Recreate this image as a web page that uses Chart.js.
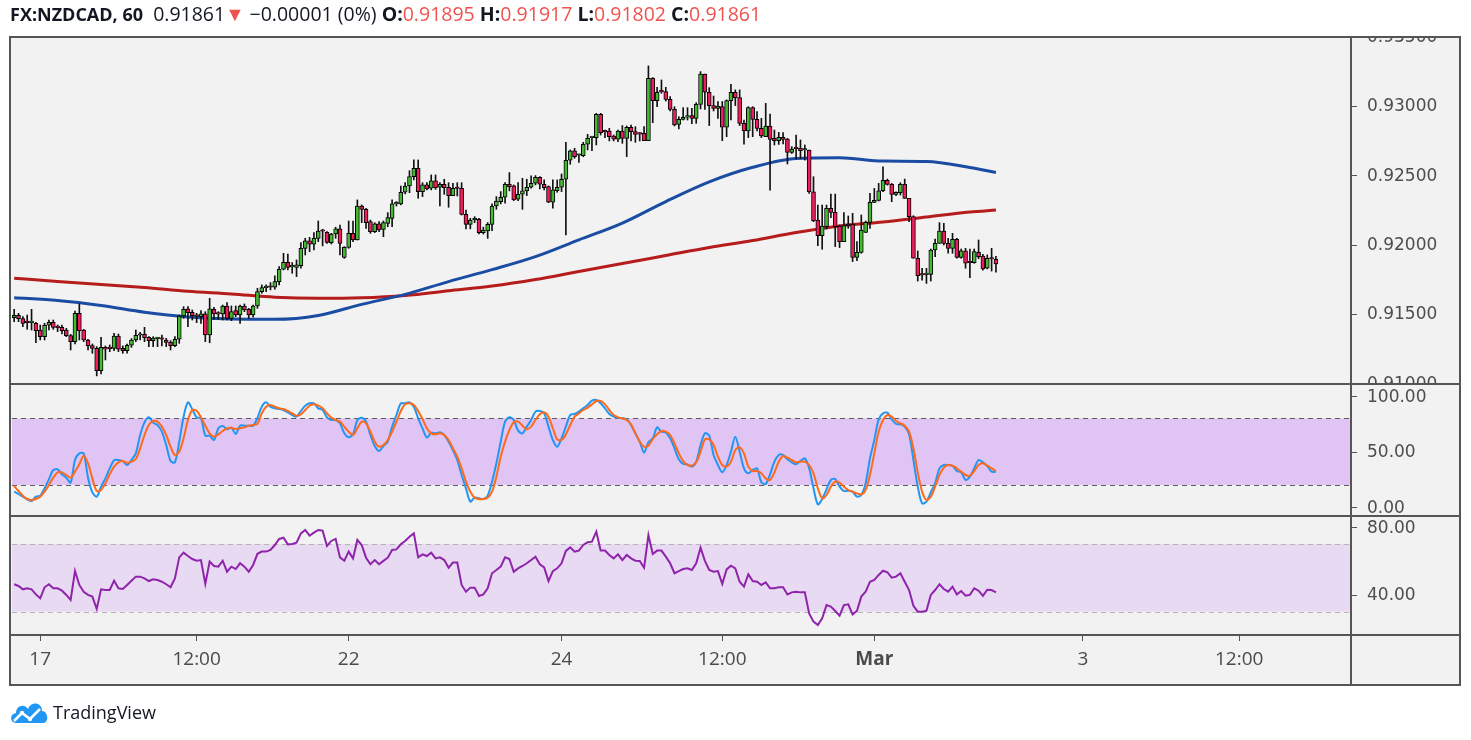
<!DOCTYPE html>
<html>
<head>
<meta charset="utf-8">
<title>FX:NZDCAD, 60</title>
<script src="https://cdn.jsdelivr.net/npm/chart.js@4.4.1/dist/chart.umd.min.js"></script>
<style>
  html, body { margin: 0; padding: 0; background: #fff; }
  body { width: 1471px; height: 740px; position: relative; overflow: hidden; font-family: "Open Sans", sans-serif; }
  #chart { position: absolute; left: 0; top: 0; }
  #legend { position: absolute; left: 10px; top: 1px; font-size: 19.5px; color: #131722; white-space: nowrap; line-height: 26px; }
  #legend b { font-weight: 700; }
  #legend b.sym { font-size: 18px; }
  #legend .r { color: #ef5350; }
  #logo { position: absolute; left: 9px; top: 699px; height: 26px; display: flex; align-items: center; }
  #logo span { font-size: 18px; color: #131722; margin-left: 4px; }
</style>
</head>
<body>
<canvas id="chart" width="1471" height="740"></canvas>
<div id="legend"><b class="sym">FX:NZDCAD, 60</b>&nbsp; 0.91861<span class="r">▼</span> −0.00001 (0%) <b>O:</b><span class="r">0.91895</span> <b>H:</b><span class="r">0.91917</span> <b>L:</b><span class="r">0.91802</span> <b>C:</b><span class="r">0.91861</span></div>
<div id="logo">
  <svg width="40" height="24" viewBox="0 0 40 24">
    <path d="M7 23 C1 23 0 14 7 13 C7 6 15 3 19 9 C22 1 33 2 33 11 C39 11 41 23 33 23 Z" fill="#2196f3"/>
    <polyline points="5,21 13,13 21,19 31,9" fill="none" stroke="#fff" stroke-width="2.5"/>
    <circle cx="13" cy="13" r="2.2" fill="#fff"/><circle cx="21" cy="19" r="2.2" fill="#fff"/>
  </svg>
  <span>TradingView</span>
</div>
<script>
// ---- data (hourly candles) ----
const opens = [0.91474,0.91491,0.91467,0.91440,0.91438,0.91433,0.91385,0.91337,0.91419,0.91440,0.91404,0.91404,0.91385,0.91344,0.91301,0.91505,0.91385,0.91313,0.91272,0.91253,
0.91092,0.91260,0.91253,0.91253,0.91342,0.91253,0.91236,0.91275,0.91313,0.91347,0.91354,0.91332,0.91308,0.91323,0.91320,0.91313,0.91296,0.91272,0.91318,0.91486,
0.91537,0.91513,0.91486,0.91481,0.91501,0.91349,0.91534,0.91501,0.91501,0.91558,0.91469,0.91525,0.91493,0.91558,0.91534,0.91493,0.91558,0.91662,0.91690,0.91695,
0.91693,0.91734,0.91823,0.91873,0.91840,0.91837,0.91849,0.91974,0.92027,0.92003,0.92046,0.92099,0.92089,0.92015,0.92077,0.92114,0.91909,0.91981,0.92082,0.92034,
0.92279,0.92255,0.92166,0.92094,0.92150,0.92111,0.92154,0.92190,0.92294,0.92294,0.92378,0.92423,0.92491,0.92551,0.92383,0.92431,0.92407,0.92460,0.92414,0.92435,
0.92414,0.92354,0.92407,0.92407,0.92219,0.92147,0.92180,0.92183,0.92087,0.92099,0.92147,0.92279,0.92311,0.92342,0.92436,0.92424,0.92328,0.92364,0.92388,0.92414,
0.92443,0.92486,0.92436,0.92419,0.92306,0.92390,0.92414,0.92472,0.92609,0.92676,0.92645,0.92642,0.92724,0.92772,0.92772,0.92940,0.92815,0.92820,0.92784,0.92760,
0.92820,0.92767,0.92847,0.92815,0.92799,0.92803,0.92750,0.93200,0.93039,0.93104,0.93104,0.93048,0.92976,0.92868,0.92904,0.92919,0.92931,0.92911,0.93012,0.93231,
0.93099,0.93003,0.92983,0.92995,0.92847,0.93039,0.93099,0.93060,0.92875,0.92820,0.92988,0.92904,0.92839,0.92779,0.92856,0.92767,0.92750,0.92774,0.92762,0.92666,
0.92695,0.92695,0.92683,0.92683,0.92382,0.92178,0.92065,0.92130,0.92262,0.92233,0.92135,0.92022,0.92149,0.92147,0.91909,0.91945,0.92089,0.92161,0.92305,0.92320,
0.92389,0.92464,0.92435,0.92363,0.92375,0.92435,0.92334,0.92202,0.91902,0.91783,0.91784,0.91786,0.91962,0.92010,0.92099,0.92010,0.91974,0.92039,0.91909,0.91955,
0.91874,0.91870,0.91945,0.91918,0.91830,0.91899,0.91895];
const highs = [0.91534,0.91505,0.91481,0.91493,0.91534,0.91440,0.91421,0.91433,0.91457,0.91457,0.91421,0.91421,0.91397,0.91354,0.91522,0.91573,0.91390,0.91318,0.91284,0.91265,
0.91332,0.91270,0.91277,0.91361,0.91356,0.91270,0.91284,0.91323,0.91385,0.91368,0.91404,0.91337,0.91337,0.91332,0.91349,0.91325,0.91308,0.91337,0.91493,0.91553,
0.91553,0.91529,0.91505,0.91525,0.91517,0.91613,0.91549,0.91517,0.91565,0.91582,0.91558,0.91558,0.91565,0.91573,0.91541,0.91565,0.91686,0.91710,0.91710,0.91727,
0.91775,0.91842,0.91938,0.91933,0.91871,0.91890,0.92015,0.92046,0.92053,0.92087,0.92171,0.92111,0.92094,0.92082,0.92126,0.92142,0.91986,0.92171,0.92171,0.92323,
0.92287,0.92262,0.92178,0.92159,0.92166,0.92171,0.92231,0.92323,0.92311,0.92423,0.92447,0.92534,0.92611,0.92611,0.92447,0.92447,0.92503,0.92503,0.92447,0.92472,
0.92447,0.92443,0.92447,0.92447,0.92250,0.92190,0.92202,0.92190,0.92126,0.92159,0.92294,0.92347,0.92383,0.92447,0.92520,0.92431,0.92448,0.92479,0.92472,0.92496,
0.92498,0.92491,0.92467,0.92424,0.92467,0.92467,0.92510,0.92738,0.92683,0.92695,0.92654,0.92738,0.92796,0.92779,0.92947,0.92947,0.92827,0.92839,0.92791,0.92827,
0.92859,0.92856,0.92863,0.92851,0.92808,0.92851,0.93289,0.93205,0.93135,0.93188,0.93135,0.93068,0.92995,0.92923,0.92988,0.92988,0.92983,0.93024,0.93248,0.93231,
0.93132,0.93072,0.93032,0.93032,0.93044,0.93157,0.93116,0.93116,0.92899,0.92995,0.92995,0.92959,0.92911,0.93019,0.92942,0.92827,0.92810,0.92808,0.92767,0.92707,
0.92791,0.92755,0.92719,0.92683,0.92490,0.92286,0.92286,0.92286,0.92365,0.92365,0.92142,0.92231,0.92207,0.92226,0.92022,0.92214,0.92171,0.92370,0.92406,0.92442,
0.92562,0.92473,0.92442,0.92382,0.92447,0.92473,0.92334,0.92209,0.91955,0.91830,0.91830,0.91969,0.92041,0.92159,0.92154,0.92046,0.92082,0.92046,0.91969,0.91974,
0.91969,0.91969,0.92034,0.91930,0.91926,0.91974,0.91917];
const lows = [0.91445,0.91445,0.91409,0.91390,0.91385,0.91293,0.91313,0.91313,0.91385,0.91390,0.91373,0.91356,0.91337,0.91241,0.91284,0.91313,0.91301,0.91241,0.91217,0.91054,
0.91068,0.91169,0.91229,0.91236,0.91229,0.91217,0.91217,0.91260,0.91301,0.91313,0.91301,0.91265,0.91265,0.91265,0.91270,0.91265,0.91241,0.91265,0.91289,0.91469,
0.91409,0.91457,0.91438,0.91433,0.91301,0.91293,0.91462,0.91462,0.91457,0.91457,0.91452,0.91481,0.91433,0.91517,0.91469,0.91477,0.91541,0.91650,0.91662,0.91674,
0.91679,0.91710,0.91818,0.91818,0.91794,0.91770,0.91830,0.91926,0.91950,0.91962,0.92022,0.91991,0.92010,0.92005,0.92046,0.91926,0.91902,0.91974,0.92022,0.92034,
0.92159,0.92118,0.92082,0.92087,0.92094,0.92058,0.92130,0.92130,0.92279,0.92287,0.92366,0.92375,0.92467,0.92335,0.92347,0.92395,0.92395,0.92399,0.92279,0.92363,
0.92270,0.92354,0.92351,0.92214,0.92114,0.92114,0.92159,0.92077,0.92077,0.92046,0.92101,0.92255,0.92294,0.92299,0.92388,0.92318,0.92318,0.92255,0.92354,0.92407,
0.92431,0.92402,0.92395,0.92303,0.92263,0.92378,0.92383,0.92070,0.92580,0.92623,0.92594,0.92635,0.92683,0.92678,0.92719,0.92791,0.92772,0.92748,0.92748,0.92743,
0.92731,0.92635,0.92748,0.92738,0.92748,0.92750,0.92750,0.92880,0.92995,0.93092,0.93036,0.92964,0.92856,0.92835,0.92899,0.92899,0.92873,0.92875,0.92979,0.92976,
0.92859,0.92964,0.92911,0.92750,0.92779,0.92899,0.93003,0.92859,0.92724,0.92772,0.92779,0.92820,0.92772,0.92779,0.92394,0.92719,0.92723,0.92726,0.92582,0.92658,
0.92618,0.92622,0.92610,0.92370,0.92166,0.91993,0.91967,0.92113,0.92195,0.91986,0.91979,0.92022,0.92118,0.91878,0.91885,0.91938,0.92087,0.92118,0.92303,0.92315,
0.92382,0.92430,0.92310,0.92353,0.92358,0.92334,0.92166,0.91902,0.91738,0.91745,0.91721,0.91738,0.91914,0.92010,0.91998,0.91938,0.91938,0.91902,0.91902,0.91830,
0.91762,0.91866,0.91899,0.91817,0.91825,0.91810,0.91802];
const closes = [0.91491,0.91467,0.91433,0.91438,0.91440,0.91380,0.91337,0.91419,0.91440,0.91404,0.91402,0.91380,0.91344,0.91301,0.91505,0.91380,0.91313,0.91272,0.91253,0.91092,
0.91260,0.91246,0.91251,0.91342,0.91246,0.91236,0.91275,0.91313,0.91347,0.91349,0.91330,0.91308,0.91327,0.91325,0.91318,0.91296,0.91272,0.91318,0.91486,0.91534,
0.91510,0.91486,0.91484,0.91501,0.91349,0.91537,0.91501,0.91499,0.91558,0.91469,0.91517,0.91493,0.91558,0.91529,0.91493,0.91558,0.91662,0.91690,0.91695,0.91693,
0.91734,0.91823,0.91873,0.91837,0.91842,0.91854,0.91974,0.92027,0.92003,0.92046,0.92099,0.92097,0.92017,0.92077,0.92114,0.92010,0.91981,0.92082,0.92034,0.92279,
0.92255,0.92159,0.92094,0.92150,0.92106,0.92159,0.92195,0.92294,0.92296,0.92378,0.92423,0.92491,0.92551,0.92383,0.92431,0.92402,0.92460,0.92411,0.92435,0.92411,
0.92354,0.92407,0.92405,0.92219,0.92147,0.92178,0.92183,0.92087,0.92106,0.92147,0.92279,0.92315,0.92342,0.92435,0.92419,0.92323,0.92364,0.92388,0.92414,0.92443,
0.92486,0.92436,0.92412,0.92306,0.92395,0.92414,0.92472,0.92609,0.92676,0.92635,0.92647,0.92724,0.92767,0.92775,0.92940,0.92808,0.92813,0.92779,0.92760,0.92820,
0.92767,0.92847,0.92815,0.92796,0.92797,0.92750,0.93200,0.93039,0.93099,0.93102,0.93048,0.92976,0.92863,0.92904,0.92919,0.92931,0.92911,0.93012,0.93231,0.93099,
0.93003,0.92983,0.93000,0.92847,0.93039,0.93099,0.93060,0.92875,0.92820,0.92988,0.92904,0.92839,0.92784,0.92856,0.92759,0.92750,0.92774,0.92759,0.92666,0.92690,
0.92693,0.92678,0.92685,0.92382,0.92171,0.92065,0.92135,0.92262,0.92233,0.92130,0.92022,0.92137,0.92135,0.91909,0.91945,0.92106,0.92161,0.92305,0.92320,0.92389,
0.92464,0.92435,0.92363,0.92377,0.92435,0.92334,0.92202,0.91902,0.91776,0.91781,0.91786,0.91962,0.92010,0.92099,0.92010,0.91974,0.92039,0.91909,0.91955,0.91866,
0.91870,0.91950,0.91914,0.91825,0.91902,0.91897,0.91861];

// moving averages, read at every 10th candle
const maIdx = [0,10,20,30,40,50,60,70,80,90,100,110,120,130,140,150,160,170,180,190,200,210,220,226];
const blueMa = [0.91618,0.91598,0.91562,0.91513,0.91479,0.91464,0.91462,0.91490,0.91570,0.91642,0.91734,0.91820,0.91914,0.92035,0.92156,0.92311,0.92453,0.92558,0.92622,0.92627,0.92603,0.92600,0.92557,0.92521];
const redMa = [0.91758,0.91735,0.91713,0.91691,0.91664,0.91645,0.91621,0.91613,0.91617,0.91634,0.91668,0.91702,0.91749,0.91807,0.91864,0.91922,0.91980,0.92030,0.92088,0.92135,0.92164,0.92200,0.92236,0.92250];

// stochastic %K / %D
const stochK = [14,11.9,9.5,7.1,5.6,9.5,10.4,17,25.1,33.5,34.1,29.6,26.6,22.1,42.5,48.5,48.5,26.6,13.4,9.5,
18.5,26,35,42.2,42.5,41.6,38,42.5,48.5,65,76.4,80.9,76.1,74,68,56,41.6,40.4,59,81.5,
94.4,88.1,80.9,80,64.4,64.4,60.5,71,73.1,70.1,71.6,65.9,73.4,73.4,73.4,73.4,80.3,
90.5,94.4,90.5,89,88.4,87.5,85.4,83,81.5,86.6,91.4,93.5,93.5,89,87.5,80.9,78.5,78.5,75.5,66.5,
62.9,65.6,78.5,80.6,77,65,55.1,50.6,55.1,59,72.5,83,93.5,93.5,94.4,90.5,80,71,62.6,67.1,
66.5,67.4,65,59,51.5,42.5,29,17,5,8.6,8,7.4,10.4,23,39.5,59,77,
80.9,78.5,68.9,66.5,72.5,78.5,86,86.6,84.5,72.5,60.5,54.5,62,72.5,83,83.9,86,89,92,95.9,
96.5,93.5,89,83.9,81.5,80.6,80,79.4,74,66.5,59,49.1,58.4,62,71.9,68,67.4,62,53,43.1,
38.9,38.6,36.5,41,56,66.5,64.4,47,38,31.4,38,50,63.5,50,35,30.5,33.5,
35,22.4,20.9,29.6,41,47,47,43.1,40.4,38.6,41.6,44,35,17,2.6,7.4,16.1,24.5,25.4,18.5,
14.6,14.9,14,9.5,11,21.5,44,60.5,79.1,84.5,85.1,79.1,74.9,74.6,72.5,65.6,42.5,18.5,3.5,5,
13.4,21.5,35,38,38,37.1,32.6,31.4,24.5,27.5,35,42.5,40.4,37.1,32,32];
const stochD = [19.1,14.6,10.4,7.4,6.5,7.4,9.5,14,20,26.6,31.4,31.4,29,26.6,32,38.6,46.4,39.5,26,14.6,
15.5,21.5,29.6,36.5,40.4,41.6,40.1,41,43.4,53,65,74,77.6,77,72.5,65,54.5,47,50,62,
78.5,87.5,86.9,80.9,73.4,66.5,63.5,65.6,68.6,71,71.6,70.4,71,71.9,73.4,74,75,
84.5,90.5,92,90.5,89,88.4,86.6,84.5,82.4,83.6,87.5,91.4,92.6,91.4,89,84.5,80.6,78.5,77,72.5,
68,65,71,77,75.5,68,59,54.5,56,60.5,68,77,86.6,92.6,93.5,92,86.6,79.4,71,66.5,
65.6,66.5,65,60.5,53,45.5,35,23,14,8.6,7.4,7.4,8.6,14,27.5,45.5,59,
69.5,76.4,77,73.4,70.1,72.5,78.5,83.6,85.4,81.5,71,61.1,60.5,65.6,74,81.5,84.5,87.5,89.6,92.6,
95.6,95.6,92.6,87.5,83,80.9,80,78.5,74.6,66.5,59,54.5,55.4,61.4,65.6,68.6,68,65,57.5,48.5,
41.6,38,37.4,40.4,50,61.1,61.1,56,45.5,38,36.5,41,51.5,53.9,48.5,36.5,32.6,
32.6,30.5,26,24.5,31.4,41,46.1,44.6,42.5,40.4,41,41,38,30.5,17,8,11,18.5,23,22.1,
18.5,15.5,14,12.5,11.6,15.5,29,48.5,68,78.5,83,81.5,77.6,75.5,73.4,68,53,31.4,14,6.5,
9.5,18.5,29,35.6,38,37.4,35,32,29,28.4,32.6,38,39.5,37.4,35,32.6];

// RSI
const rsi = [46.2,45.2,43.2,43.8,43.2,40.2,37.9,44.4,46.2,43.8,43.8,42.4,39.9,36.9,54.0,45.8,41.8,39.9,38.9,31.6,
43.2,42.8,42.8,48.3,43.8,43.4,45.8,48.3,50.7,50.7,49.7,48.1,49.1,48.7,47.7,46.2,44.4,49.7,62.1,64.9,
62.9,61.1,60.1,60.5,46.4,59.6,57.0,56.6,60.1,53.6,56.6,55.2,58.6,56.6,53.6,57.6,64.2,
65.5,65.5,66.5,69.4,73.0,73.7,69.8,70,70.8,76.3,78.3,74.9,76.7,78.3,77.9,68.8,71.8,73.0,62.1,60.1,
65.5,61.5,72.4,69.4,61.9,58.0,60.5,58.0,60.0,61.9,66.5,66.8,69.8,71.8,74.3,76.3,62.1,63.9,62.9,64.9,
61.5,62.1,60.5,56.0,59.0,59.0,45.8,41.8,44.2,44.2,39.3,40.2,43.8,52.7,54.6,56.6,62.1,
61.1,53.6,55.6,57.0,58.6,60.5,62.5,58.0,56.2,48.1,54.0,55.6,58.6,65.9,68.0,65.5,66.1,69.4,71.0,71.4,
77.3,66.1,66.1,63.5,61.5,63.9,60.5,63.5,61.5,60.1,60.0,56.0,75.3,64.1,66.1,66.1,62.5,58.6,52.7,54.0,
55.2,55.6,54.6,58.6,67.8,60.0,54.6,53.6,54.0,46.4,55.0,57.2,55.6,47.7,44.8,52.1,48.1,
47.7,45.8,47.3,43.8,43.8,44.4,44.4,40.2,41.4,41.8,41.4,41.4,29.0,24.1,22.1,26.1,33.9,33.0,30.4,27.6,
33.9,34.3,28.4,30.4,38.9,41.8,47.7,48.7,51.7,54.2,53.3,50.1,50.7,52.7,47.7,42.8,33.5,30.0,30.0,30.6,
39.9,42.8,46.2,43.4,41.8,44.8,40.2,42.2,39.5,39.9,43.8,42.4,39.3,43.0,42.8,41.4];

// axis labels
const xTickIdx = [6, 42, 77, 126, 163, 198, 246, 282];
const xTickText = ['17', '12:00', '22', '24', '12:00', 'Mar', '3', '12:00'];
const priceTicks = [0.910, 0.915, 0.920, 0.925, 0.930, 0.935];
const stochTicks = [0, 50, 100];
const rsiTicks = [40, 80];
const stochBand = [20, 80];
const rsiBand = [30, 70];
const slotCount = 308; // hourly slots on the time axis, empty ones on the right

// ---- layout ----
const FRAME = { left: 10, top: 37, right: 1460, bottom: 685, axisX: 1351 };
const UP = '#45b934', DOWN = '#ee1d5b';

const pt = (arr, xs) => arr.map((v, i) => ({ x: xs ? xs[i] : i, y: v }));

const panes = {
    id: 'panes',
    beforeDraw(chart) {
        const ctx = chart.ctx;
        ctx.save();
        ctx.fillStyle = '#ffffff';
        ctx.fillRect(0, 0, chart.width, chart.height);
        ctx.fillStyle = '#f2f2f2';
        ctx.fillRect(FRAME.left, FRAME.top, FRAME.right - FRAME.left, FRAME.bottom - FRAME.top);
        ctx.restore();
    },
    beforeDatasetsDraw(chart) {
        const ctx = chart.ctx;
        const area = chart.chartArea;
        const band = (scale, lim, fill, dash) => {
            const y1 = scale.getPixelForValue(lim[1]);
            const y0 = scale.getPixelForValue(lim[0]);
            ctx.fillStyle = fill;
            ctx.fillRect(area.left, y1, area.right - area.left, y0 - y1);
            ctx.strokeStyle = dash;
            ctx.lineWidth = 1;
            ctx.setLineDash([5, 4]);
            [y0, y1].forEach(y => {
                ctx.beginPath();
                ctx.moveTo(area.left, Math.round(y) + 0.5);
                ctx.lineTo(area.right, Math.round(y) + 0.5);
                ctx.stroke();
            });
            ctx.setLineDash([]);
        };
        ctx.save();
        band(chart.scales.stoch, stochBand, '#e0c4f4', '#5d5d5d');
        band(chart.scales.rsi, rsiBand, '#e9daf3', '#b5b5b5');
        ctx.restore();
    },
    afterDraw(chart) {
        const ctx = chart.ctx;
        ctx.save();
        // right axis labels, clipped to each pane
        const labels = (scale, ticks, fmt) => {
            ctx.save();
            ctx.beginPath();
            ctx.rect(FRAME.axisX, scale.top, FRAME.right - FRAME.axisX, scale.bottom - scale.top);
            ctx.clip();
            ctx.fillStyle = '#4d4d4d';
            ctx.strokeStyle = '#555';
            ctx.lineWidth = 1;
            ctx.font = '17px "DejaVu Sans"';
            ctx.textBaseline = 'middle';
            ticks.forEach(v => {
                const y = scale.getPixelForValue(v);
                ctx.beginPath();
                ctx.moveTo(FRAME.axisX, Math.round(y) + 0.5);
                ctx.lineTo(FRAME.axisX + 6, Math.round(y) + 0.5);
                ctx.stroke();
                ctx.fillText(fmt(v), FRAME.axisX + 16, y + 1);
            });
            ctx.restore();
        };
        labels(chart.scales.y, priceTicks, v => v.toFixed(5));
        labels(chart.scales.stoch, stochTicks, v => v.toFixed(2));
        labels(chart.scales.rsi, rsiTicks, v => v.toFixed(2));

        // frame and pane separators
        ctx.strokeStyle = '#555';
        ctx.lineWidth = 2;
        ctx.strokeRect(FRAME.left, FRAME.top, FRAME.right - FRAME.left, FRAME.bottom - FRAME.top);
        ctx.beginPath();
        ctx.moveTo(FRAME.axisX, FRAME.top);
        ctx.lineTo(FRAME.axisX, FRAME.bottom);
        [chart.scales.y.bottom, chart.scales.stoch.bottom, chart.scales.rsi.bottom].forEach(y => {
            ctx.moveTo(FRAME.left, y);
            ctx.lineTo(FRAME.right, y);
        });
        ctx.stroke();
        ctx.restore();
    }
};

const yAxis = (min, max, weight) => ({
    type: 'linear',
    position: 'right',
    stack: 'panes',
    stackWeight: weight,
    min: min,
    max: max,
    grid: { display: false },
    border: { display: false },
    ticks: { display: false },
    afterFit: s => { s.width = 110; }
});

new Chart(document.getElementById('chart'), {
    type: 'bar',
    plugins: [panes],
    data: {
        datasets: [
            {
                type: 'bar', label: 'bodies', yAxisID: 'y', order: 0,
                data: closes.map((c, i) => ({ x: i, y: [opens[i], c] })),
                backgroundColor: closes.map((c, i) => c >= opens[i] ? UP : DOWN),
                borderColor: '#000', borderWidth: 1, borderSkipped: false,
                barThickness: 4, minBarLength: 1.5, grouped: false
            },
            {
                type: 'bar', label: 'wicks', yAxisID: 'y', order: 1,
                data: lows.map((l, i) => ({ x: i, y: [l, highs[i]] })),
                backgroundColor: '#111', borderWidth: 0,
                barThickness: 1, grouped: false
            },
            {
                type: 'line', label: 'MA fast', yAxisID: 'y', order: 2,
                data: pt(blueMa, maIdx), borderColor: '#1a4ca3', borderWidth: 3,
                pointRadius: 0, cubicInterpolationMode: 'monotone'
            },
            {
                type: 'line', label: 'MA slow', yAxisID: 'y', order: 3,
                data: pt(redMa, maIdx), borderColor: '#b71c1c', borderWidth: 3,
                pointRadius: 0, cubicInterpolationMode: 'monotone'
            },
            {
                type: 'line', label: '%D', yAxisID: 'stoch', order: 4,
                data: pt(stochD), borderColor: '#ff6a1a', borderWidth: 2, pointRadius: 0, tension: 0.3
            },
            {
                type: 'line', label: '%K', yAxisID: 'stoch', order: 5,
                data: pt(stochK), borderColor: '#2196f3', borderWidth: 2, pointRadius: 0, tension: 0.3
            },
            {
                type: 'line', label: 'RSI', yAxisID: 'rsi', order: 6,
                data: pt(rsi), borderColor: '#8e24aa', borderWidth: 2, pointRadius: 0
            }
        ]
    },
    options: {
        responsive: false,
        animation: false,
        events: [],
        layout: { padding: { left: 12, top: 38, right: 11, bottom: 55 } },
        plugins: { legend: { display: false }, tooltip: { enabled: false } },
        scales: {
            x: {
                type: 'linear',
                min: -0.5,
                max: slotCount - 0.5,
                offset: false,
                grid: { display: true, offset: false, drawOnChartArea: false, drawTicks: true, tickLength: 6, color: '#555' },
                border: { display: false },
                afterBuildTicks: s => { s.ticks = xTickIdx.map(v => ({ value: v })); },
                afterFit: s => { s.height = 50; },
                ticks: {
                    autoSkip: false,
                    maxRotation: 0,
                    padding: 7,
                    color: '#4a4a4a',
                    font: c => ({ family: '"Open Sans"', size: 19,
                        weight: c.tick && xTickText[xTickIdx.indexOf(c.tick.value)] === 'Mar' ? 'bold' : 'normal' }),
                    callback: v => xTickText[xTickIdx.indexOf(v)]
                }
            },
            y: yAxis(0.909956, 0.934903, 346),
            stoch: yAxis(-7.9, 110.9, 132),
            rsi: yAxis(16.2, 86.55, 119)
        }
    }
});
</script>
</body>
</html>
